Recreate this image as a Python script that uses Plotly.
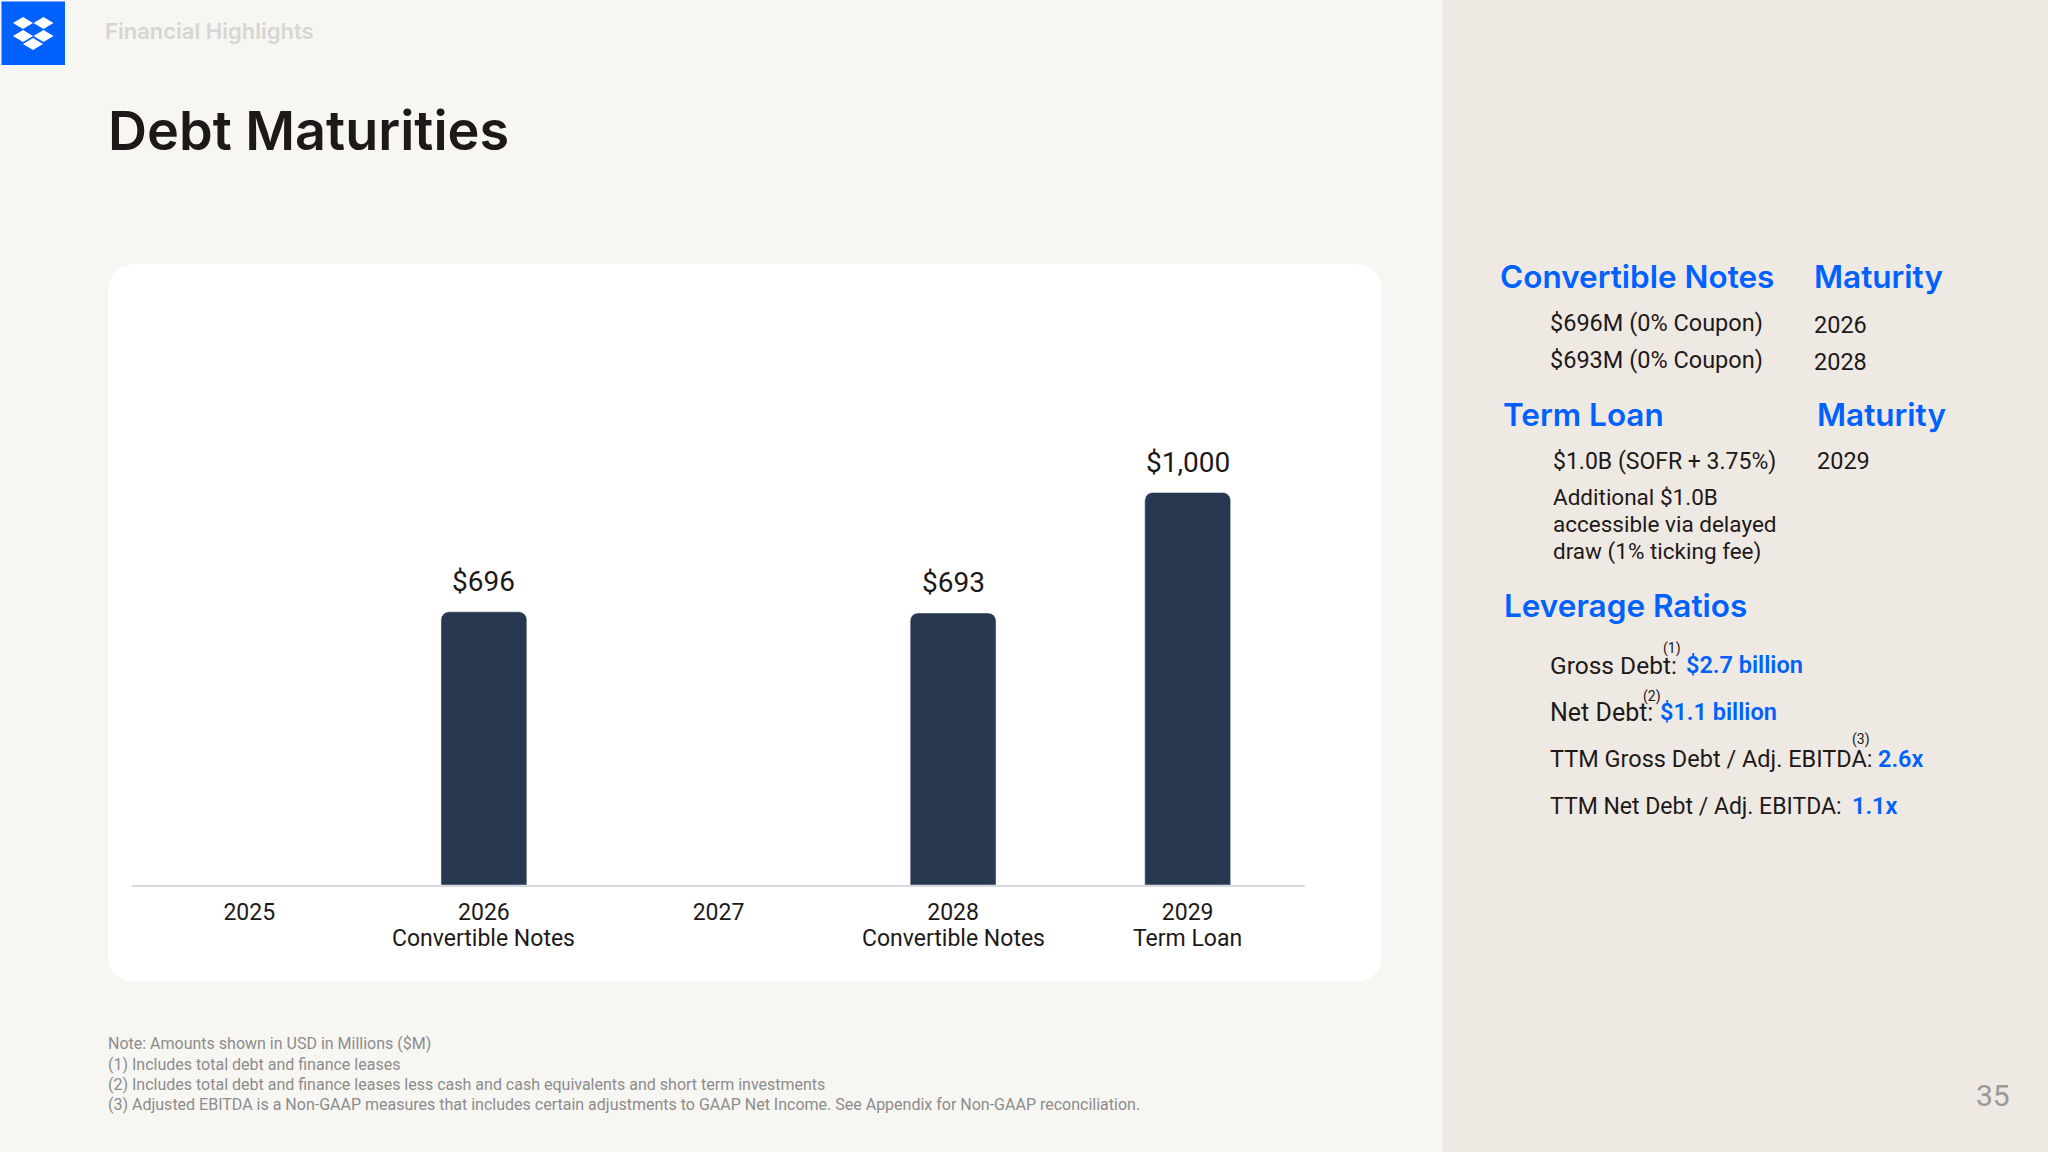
import plotly.graph_objects as go

W, H = 2048, 1152

# chart data
years = ["2025", "2026", "2027", "2028", "2029"]
tranches = ["", "Convertible Notes", "", "Convertible Notes", "Term Loan"]
amounts = [None, 696, None, 693, 1000]

BLUE = "#0061fe"
INK = "#1e1919"
NAVY = "#283750"
BODY = "Roboto"
HEAD = "Inter"

# (x px, y px, text)
headers = [
    (1500, 277, "Convertible Notes"), (1814, 277, "Maturity"),
    (1503, 414, "Term Loan"), (1817, 414, "Maturity"),
    (1504, 605, "Leverage Ratios"),
]
body_text = [
    (1550, 323, "$696M (0% Coupon)", 23.5), (1814, 325, "2026", 23.5),
    (1550, 360, "$693M (0% Coupon)", 23.5), (1814, 362, "2028", 23.5),
    (1553, 461, "$1.0B (SOFR + 3.75%)", 23), (1817, 461, "2029", 23.5),
    (1553, 497, "Additional $1.0B", 22.5),
    (1553, 524, "accessible via delayed", 22.5),
    (1553, 551, "draw (1% ticking fee)", 22.5),
]
# (y px, label, label size, value x px, value)
ratios = [
    (665, "Gross Debt:", 24.5, 1686, "$2.7 billion"),
    (712, "Net Debt:", 25, 1660, "$1.1 billion"),
    (759, "TTM Gross Debt / Adj. EBITDA:", 23.5, 1878, "2.6x"),
    (806, "TTM Net Debt / Adj. EBITDA:", 23, 1852, "1.1x"),
]
superscripts = [(1672, 648, "(1)"), (1652, 696, "(2)"), (1861, 739, "(3)")]
footnotes = [
    (1043, "Note: Amounts shown in USD in Millions ($M)"),
    (1064, "(1) Includes total debt and finance leases"),
    (1084, "(2) Includes total debt and finance leases less cash and cash equivalents and short term investments"),
    (1104, "(3) Adjusted EBITDA is a Non-GAAP measures that includes certain adjustments to GAAP Net Income. See Appendix for Non-GAAP reconciliation."),
]


def px_x(x):
    return x / W


def px_y(y):
    return 1 - y / H


def label(x, y, text, size, color=INK, family=BODY, weight=None, anchor="left"):
    # annotations carry a little padding, so pull left aligned text back
    if anchor == "left":
        x -= 2
    return dict(x=px_x(x), y=px_y(y), xref="paper", yref="paper", text=text, showarrow=False,
                xanchor=anchor, yanchor="middle", align="left",
                font=dict(family=family, size=size, color=color, weight=weight))


def diamond(cx, cy, hw=10, hh=6):
    return dict(type="path", xref="paper", yref="paper", fillcolor="white", line_width=0, layer="above",
                path=f"M{px_x(cx-hw)},{px_y(cy)} L{px_x(cx)},{px_y(cy-hh)} L{px_x(cx+hw)},{px_y(cy)} L{px_x(cx)},{px_y(cy+hh)} Z")


def rounded(x0, y0, x1, y1, r):
    return (f"M{px_x(x0+r)},{px_y(y0)} L{px_x(x1-r)},{px_y(y0)} Q{px_x(x1)},{px_y(y0)} {px_x(x1)},{px_y(y0+r)} "
            f"L{px_x(x1)},{px_y(y1-r)} Q{px_x(x1)},{px_y(y1)} {px_x(x1-r)},{px_y(y1)} "
            f"L{px_x(x0+r)},{px_y(y1)} Q{px_x(x0)},{px_y(y1)} {px_x(x0)},{px_y(y1-r)} "
            f"L{px_x(x0)},{px_y(y0+r)} Q{px_x(x0)},{px_y(y0)} {px_x(x0+r)},{px_y(y0)} Z")


fig = go.Figure()
fig.add_bar(x=years, y=amounts, width=0.366, marker=dict(color=NAVY, cornerradius=8), hoverinfo="skip")

shapes = [
    dict(type="rect", xref="paper", yref="paper", x0=px_x(1443), x1=1, y0=0, y1=1,
         fillcolor="#efe9e3", line_width=0, layer="below"),
    dict(type="path", xref="paper", yref="paper", path=rounded(108, 264, 1382, 982, 30),
         fillcolor="white", line_width=0, layer="below"),
    dict(type="rect", xref="paper", yref="paper", x0=px_x(1.5), x1=px_x(65), y0=px_y(65), y1=px_y(1.5),
         fillcolor=BLUE, line_width=0, layer="below"),
]
for cx, cy in [(23, 23), (43.5, 23), (23, 36), (43.5, 36), (33, 44)]:
    shapes.append(diamond(cx, cy))

annotations = [
    label(105, 31, "Financial Highlights", 22, "#d8d6d3", HEAD, 600),
    label(108, 130, "Debt Maturities", 54, INK, HEAD, 600),
    label(1993, 1095, "35", 30, "#999999", anchor="center"),
]
for x, y, t in headers:
    annotations.append(label(x, y, t, 31.5, BLUE, HEAD, 600))
for x, y, t, s in body_text:
    annotations.append(label(x, y, t, s))
for y, t, s, vx, v in ratios:
    annotations.append(label(1550, y, t, s))
    annotations.append(label(vx, y, v, 23.5, BLUE, BODY, 600))
for x, y, t in superscripts:
    annotations.append(label(x, y, t, 14, anchor="center"))
for y, t in footnotes:
    annotations.append(label(108, y, t, 16, "#8c8c8c"))

# value labels above the bars, category axis positions are serial numbers
for i, val in enumerate(amounts):
    if val is not None:
        annotations.append(dict(x=i, y=val, xref="x", yref="y", text=f"${val:,}", showarrow=False,
                                yanchor="bottom", yshift=12, font=dict(family=BODY, size=28, color=INK)))

# second line under the year, tighter than a <br> in a tick label would be
for i, t in enumerate(tranches):
    if t:
        annotations.append(dict(x=i, y=px_y(938), xref="x", yref="paper", text=t, showarrow=False,
                                yanchor="middle", font=dict(family=BODY, size=23, color=INK)))

fig.update_layout(
    width=W, height=H, margin=dict(l=0, r=0, t=0, b=0),
    paper_bgcolor="#f7f6f2", plot_bgcolor="rgba(0,0,0,0)", showlegend=False,
    shapes=shapes, annotations=annotations,
    xaxis=dict(domain=[px_x(132), px_x(1305)], type="category", categoryorder="array", categoryarray=years,
               range=[-0.5, 4.5], tickmode="array", tickvals=list(range(len(years))), ticktext=years,
               automargin=False, showgrid=False, zeroline=False, showline=True,
               linecolor="#d9dadf", linewidth=2, ticks="outside", ticklen=5, tickcolor="rgba(0,0,0,0)",
               tickfont=dict(family=BODY, size=23, color=INK)),
    yaxis=dict(domain=[px_y(885), px_y(414)], range=[0, 1200], visible=False),
)

fig.write_html("out.html", config={"displayModeBar": False},
               post_script="document.body.style.margin='0';document.body.style.overflow='hidden';")
